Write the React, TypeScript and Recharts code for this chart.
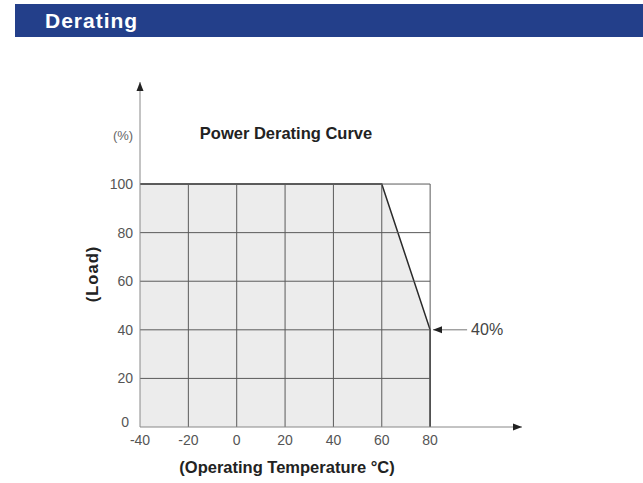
import React from "react";
import { ComposedChart, Area, XAxis, YAxis, ReferenceLine, ReferenceDot } from "recharts";

// derating curve: load (%) vs ambient temperature (°C)
const temps = [-40, 60, 80, 80];
const loads = [100, 100, 40, 0];

const xTicks = [-40, -20, 0, 20, 40, 60, 80];
const yTicks = [0, 20, 40, 60, 80, 100];

const data = temps.map((t, i) => ({ t, load: loads[i] }));

const FONT = "'Liberation Sans', Arial, Helvetica, sans-serif";
const GRID = "#5a5a5a";
const AXIS = "#888";

const ArrowRight = (p: any) => (
  <path d={`M${p.cx},${p.cy} l-9,-3.5 l0,7 z`} fill="#222" />
);
const ArrowUp = (p: any) => (
  <path d={`M${p.cx},${p.cy} l-3.5,9 l7,0 z`} fill="#222" />
);
const ArrowLeft = (p: any) => (
  <path d={`M${p.cx},${p.cy} l9,-3.5 l0,7 z`} fill="#222" />
);

// y tick: the "0" sits a bit higher and further left, clear of "-40"
const YTick = (p: any) => {
  const zero = p.payload.value === 0;
  return (
    <text
      x={p.x - (zero ? 4 : 0)}
      y={p.y - (zero ? 5 : 0)}
      textAnchor="end"
      dominantBaseline="central"
      fill="#555"
      fontSize={14}
      fontFamily={FONT}
    >
      {p.payload.value}
    </text>
  );
};

export default function App() {
  return (
    <div style={{ position: "absolute", left: 0, top: 0, width: 643, height: 483, background: "#fff", fontFamily: FONT }}>
      <div
        style={{
          position: "absolute",
          left: 15,
          top: 4,
          width: 628,
          height: 33,
          lineHeight: "33px",
          background: "#233f8a",
          color: "#fff",
          fontWeight: "bold",
          fontSize: 21,
          letterSpacing: 1,
          paddingLeft: 30,
          boxSizing: "border-box",
        }}
      >
        Derating
      </div>

      <ComposedChart
        width={643}
        height={483}
        data={data}
        margin={{ top: 82, right: 121, bottom: 26, left: 80 }}
        style={{ position: "absolute", left: 0, top: 0 }}
      >
        <XAxis
          dataKey="t"
          type="number"
          domain={[-40, 118]}
          ticks={xTicks}
          height={30}
          tickLine={false}
          tickSize={5}
          tickMargin={3}
          axisLine={{ stroke: AXIS }}
          tick={{ fill: "#555", fontSize: 14, fontFamily: FONT }}
          allowDataOverflow
        />
        <YAxis
          type="number"
          domain={[0, 142]}
          ticks={yTicks}
          width={60}
          tickLine={false}
          tickSize={5}
          tickMargin={2}
          axisLine={{ stroke: AXIS }}
          tick={YTick}
          allowDataOverflow
        />
        <Area
          type="linear"
          dataKey="load"
          stroke="#2a2a2a"
          strokeWidth={1.5}
          fill="#000"
          fillOpacity={0.075}
          isAnimationActive={false}
          dot={false}
          activeDot={false}
        />
        {xTicks.slice(1).map((x) => (
          <ReferenceLine key={`vx${x}`} segment={[{ x, y: 0 }, { x, y: 100 }]} stroke={GRID} strokeWidth={1} />
        ))}
        {yTicks.slice(1).map((y) => (
          <ReferenceLine key={`hy${y}`} segment={[{ x: -40, y }, { x: 80, y }]} stroke={GRID} strokeWidth={1} />
        ))}
        <ReferenceLine
          segment={[{ x: 81.2, y: 40 }, { x: 95.3, y: 40 }]}
          stroke="#777"
          strokeWidth={1}
          label={{ value: "40%", position: "right", offset: 4, fill: "#444", fontSize: 16, fontFamily: FONT }}
        />
        <ReferenceDot x={81.2} y={40} r={0} shape={ArrowLeft} ifOverflow="visible" />
        <ReferenceDot x={118} y={0} r={0} shape={ArrowRight} ifOverflow="visible" />
        <ReferenceDot x={-40} y={142} r={0} shape={ArrowUp} ifOverflow="visible" />
      </ComposedChart>

      <div style={{ position: "absolute", left: 123, top: 135, transform: "translate(-50%,-50%)", fontSize: 13, color: "#666" }}>
        (%)
      </div>
      <div
        style={{ position: "absolute", left: 286, top: 133, transform: "translate(-50%,-50%)", fontSize: 16.5, fontWeight: "bold", color: "#222", whiteSpace: "nowrap" }}
      >
        Power Derating Curve
      </div>
      <div
        style={{ position: "absolute", left: 92, top: 274, transform: "translate(-50%,-50%) rotate(-90deg)", fontSize: 16.5, letterSpacing: 1, fontWeight: "bold", color: "#222", whiteSpace: "nowrap" }}
      >
        (Load)
      </div>
      <div
        style={{ position: "absolute", left: 287, top: 467, transform: "translate(-50%,-50%)", fontSize: 16.5, fontWeight: "bold", color: "#222", whiteSpace: "nowrap" }}
      >
        (Operating Temperature °C)
      </div>
    </div>
  );
}
